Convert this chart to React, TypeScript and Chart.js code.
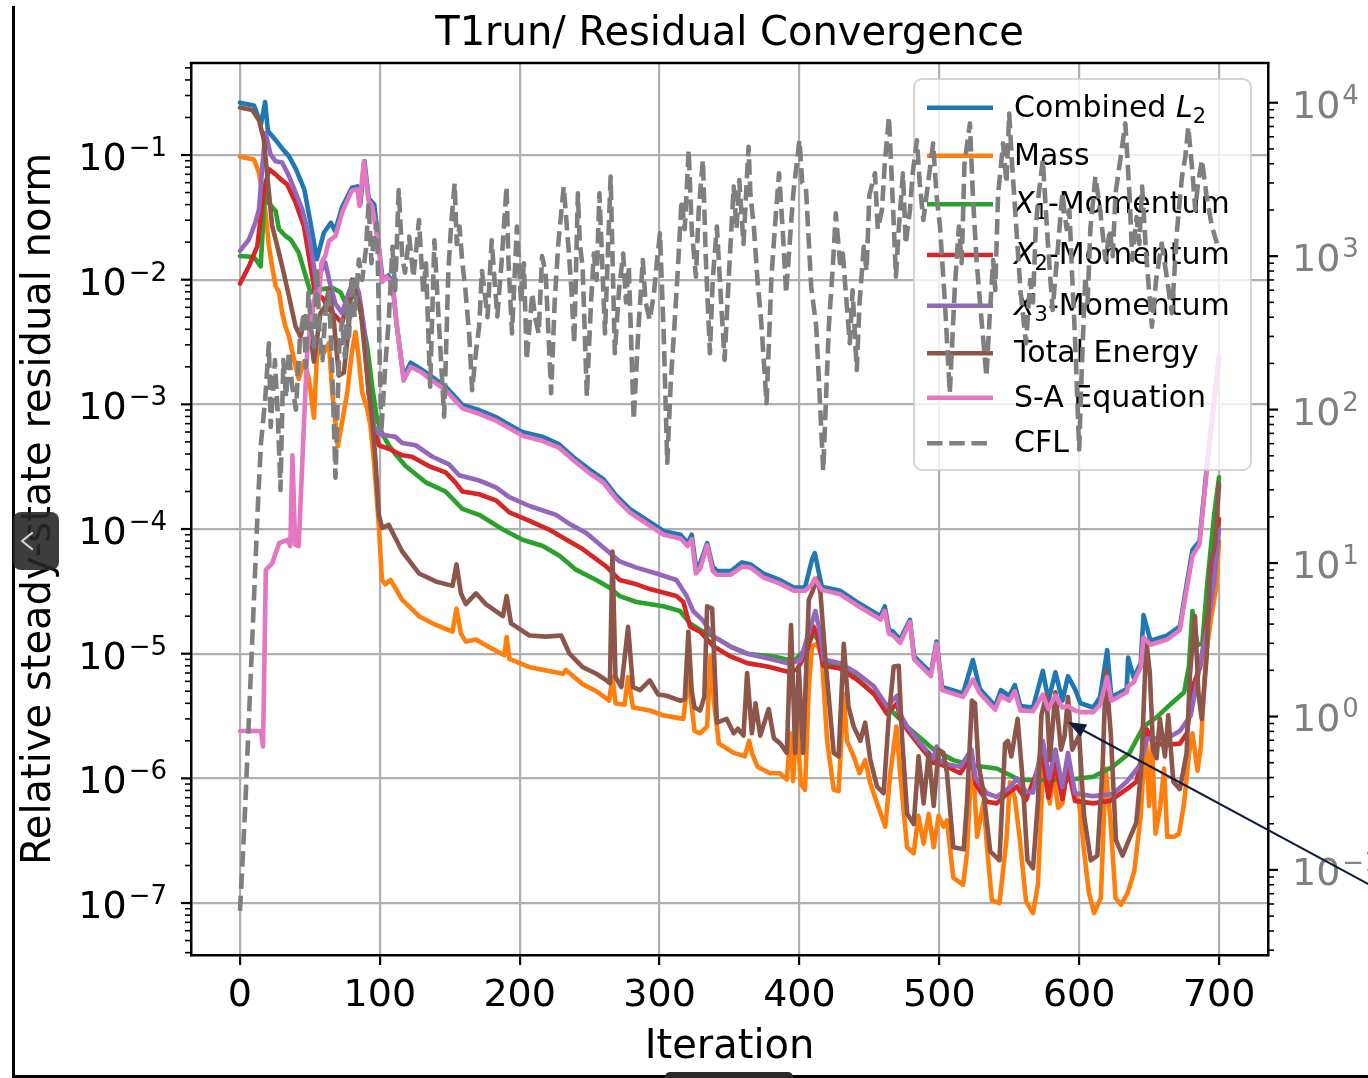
import React, { useEffect, useRef } from "react";
import { Chart, registerables } from "chart.js";

Chart.register(...registerables);

const FONT = '"DejaVu Sans", "Liberation Sans", Arial, sans-serif';

// ---------- axes ----------
const ITERATION_RANGE = [-35, 735];
const RESIDUAL_RANGE = [3.83e-8, 0.547];
const CFL_RANGE = [0.0279, 18150];
const ITERATION_TICKS = [0, 100, 200, 300, 400, 500, 600, 700];
const RESIDUAL_DECADES = [-7, -6, -5, -4, -3, -2, -1];
const CFL_DECADES = [-1, 0, 1, 2, 3, 4];

const TITLE = "T1run/ Residual Convergence";
const X_LABEL = "Iteration";
const Y_LABEL = "Relative steady-state residual norm";

const SERIES_NAMES = ["Combined L2", "Mass", "X1-Momentum", "X2-Momentum", "X3-Momentum", "Total Energy", "S-A Equation", "CFL"];

// ---------- data: [iteration, value] ----------
const combinedL2: [number, number][] = [
  [0, 0.263], [10, 0.25], [15, 0.176], [18, 0.266], [20, 0.156], [25, 0.134], [31, 0.11], [35, 0.098], [40, 0.077], [46, 0.053],
  [50, 0.0305], [55, 0.0146], [60, 0.0238], [65, 0.0286], [68, 0.0246], [73, 0.038], [80, 0.0547], [84, 0.056], [86, 0.04], [89, 0.0895],
  [92, 0.045], [96, 0.04], [99, 0.0195], [102, 0.01], [106, 0.0108], [109, 0.0096], [112, 0.0044], [117, 0.00165], [122, 0.00216], [130, 0.0019],
  [135, 0.00173], [147, 0.00139], [159, 0.00099], [171, 0.0009], [183, 0.00079], [193, 0.00068], [202, 0.0006], [216, 0.00055], [228, 0.00048], [238, 0.00038],
  [250, 0.0003], [260, 0.00025], [269, 0.000185], [279, 0.000144], [288, 0.000124], [303, 9.6e-5], [315, 9.0e-5], [320, 7.7e-5], [323, 9.0e-5], [326, 5.0e-5],
  [329, 5.3e-5], [334, 7.7e-5], [338, 5.0e-5], [341, 4.6e-5], [351, 4.6e-5], [359, 5.4e-5], [365, 5.2e-5], [374, 4.4e-5], [386, 3.9e-5], [396, 3.4e-5],
  [404, 3.4e-5], [409, 5.7e-5], [411, 6.4e-5], [416, 3.45e-5], [429, 3.2e-5], [441, 2.6e-5], [458, 2.0e-5], [461, 2.4e-5], [464, 1.55e-5], [467, 1.5e-5],
  [472, 1.3e-5], [479, 1.87e-5], [482, 9.5e-6], [494, 7.0e-6], [498, 1.25e-5], [502, 5.4e-6], [517, 4.8e-6], [524, 8.9e-6], [529, 5.2e-6], [540, 3.8e-6],
  [544, 5.1e-6], [550, 4.6e-6], [554, 5.6e-6], [558, 3.8e-6], [567, 3.7e-6], [574, 7.3e-6], [578, 4.2e-6], [583, 7.1e-6], [588, 4.2e-6], [592, 6.6e-6],
  [597, 5.2e-6], [601, 4.0e-6], [610, 3.7e-6], [615, 4.5e-6], [620, 1.07e-5], [623, 4.5e-6], [634, 5.2e-6], [635, 9.3e-6], [639, 6.4e-6], [644, 8.4e-6],
  [646, 2.04e-5], [651, 1.27e-5], [663, 1.4e-5], [672, 1.66e-5], [675, 2.7e-5], [681, 6.8e-5], [686, 8.0e-5], [691, 2.95e-4], [700, 2.4e-3],
];

const mass: [number, number][] = [
  [0, 0.097], [10, 0.092], [13.6, 0.072], [16, 0.05], [18.3, 0.0345], [20.7, 0.0186], [23, 0.0128], [25.5, 0.0089], [27.9, 0.0079], [30.2, 0.0054],
  [32.6, 0.0042], [35, 0.0035], [38.6, 0.0023], [42, 0.0016], [45.7, 0.0022], [49.3, 0.0016], [52.9, 7.8e-4], [55, 0.0024], [57.6, 0.0028], [60, 0.0026],
  [63.6, 0.0031], [66, 0.00124], [70, 4.6e-4], [76.7, 0.00124], [80, 0.0026], [82.6, 0.0038], [85, 0.0023], [87.4, 0.00124], [91, 9.2e-4], [93.3, 6.7e-4],
  [95.7, 3.6e-4], [99.3, 1.06e-4], [101.5, 3.9e-5], [104, 3.6e-5], [107.7, 3.9e-5], [116, 2.7e-5], [128, 2.0e-5], [140, 1.7e-5], [152, 1.5e-5], [154.8, 2.3e-5],
  [158, 1.45e-5], [161.5, 1.25e-5], [168.7, 1.3e-5], [178, 1.13e-5], [189, 9.7e-6], [190.7, 1.36e-5], [192.6, 9.1e-6], [207, 7.8e-6], [231, 6.9e-6], [233, 7.4e-6],
  [245, 5.7e-6], [254.8, 5.0e-6], [264, 4.2e-6], [266.3, 6.5e-6], [268.5, 4.0e-6], [275, 3.9e-6], [277.5, 6.5e-6], [281, 3.7e-6], [293, 3.5e-6], [302.6, 3.2e-6],
  [317, 3.0e-6], [320.6, 6.5e-6], [325, 2.4e-6], [329, 2.3e-6], [334, 2.6e-6], [336.4, 9.5e-6], [339, 4.0e-6], [342.4, 1.9e-6], [353, 1.6e-6], [361, 1.5e-6],
  [364, 2.0e-6], [366, 1.6e-6], [370, 1.24e-6], [379, 1.1e-6], [386, 1.1e-6], [391, 9.8e-7], [393.6, 2.3e-6], [395.5, 9.5e-7], [398, 3.1e-6], [401, 9.0e-7],
  [404, 8.1e-7], [406.7, 5.4e-6], [409, 1.14e-5], [412.6, 1.2e-5], [416, 9.5e-6], [419.8, 2.0e-6], [424.5, 8.1e-7], [428, 7.9e-7], [431.7, 4.8e-6], [434, 2.0e-6],
  [438.8, 1.5e-6], [443, 1.1e-6], [447, 1.4e-6], [450.7, 9.1e-7], [455.5, 6.3e-7], [461.4, 4.1e-7], [465, 1.1e-6], [469.3, 2.6e-6], [472, 1.1e-6], [477, 2.8e-7],
  [481.7, 2.5e-7], [485, 5.0e-7], [488.8, 3.0e-7], [492.4, 5.2e-7], [496, 2.8e-7], [499.5, 5.0e-7], [503, 4.1e-7], [505.5, 4.6e-7], [510, 1.6e-7], [517, 1.4e-7],
  [519.8, 2.5e-7], [522, 8.1e-7], [524.5, 1.1e-6], [527, 3.4e-7], [531.7, 6.5e-7], [534, 2.9e-7], [537.6, 1.05e-7], [543, 1.0e-7], [548, 3.2e-7], [550.5, 9.3e-7],
  [554, 7.0e-7], [557.6, 3.2e-7], [562, 1.03e-7], [567, 8.3e-8], [570.5, 1.4e-7], [573, 6.3e-7], [574.5, 1.3e-6], [576.6, 9.5e-7], [579, 6.3e-7], [581.5, 1.1e-6],
  [585, 5.8e-7], [588, 6.3e-7], [591, 1.2e-6], [595, 9.0e-7], [600, 6.3e-7], [603.5, 2.6e-7], [607, 1.2e-7], [610.7, 8.3e-8], [615.5, 1.1e-7], [619, 1.2e-6],
  [622.5, 4.4e-7], [626, 1.1e-7], [630, 9.7e-8], [634.6, 1.2e-7], [639.4, 1.8e-7], [644, 5.0e-7], [647.5, 2.5e-6], [650, 6.0e-7], [652, 2.0e-6], [654.6, 3.6e-7],
  [658, 6.0e-7], [660.7, 1.2e-6], [663, 3.4e-7], [667.8, 3.4e-7], [671.4, 3.6e-7], [675, 6.3e-7], [678.6, 1.6e-6], [681, 2.3e-6], [684.6, 1.15e-6], [687, 1.8e-6],
  [690.6, 9.7e-6], [694.2, 1.9e-5], [697.8, 3.3e-5], [700, 8.0e-5],
];

const x1Momentum: [number, number][] = [
  [0, 0.0155], [10, 0.0152], [14.8, 0.0128], [17, 0.035], [18.5, 0.062], [20.7, 0.041], [25.5, 0.0356], [27.9, 0.0254], [32.6, 0.0224], [36.2, 0.021],
  [42, 0.0165], [47, 0.0107], [50.5, 0.0079], [58.8, 0.0084], [66, 0.0086], [72, 0.0079], [75.5, 0.0065], [80, 0.0072], [83, 0.0085], [87.4, 0.0048],
  [91, 0.0029], [94.5, 0.0014], [98, 7.6e-4], [101.7, 5.8e-4], [106.5, 4.7e-4], [111, 4.0e-4], [118.4, 3.2e-4], [132.8, 2.37e-4], [147, 2.0e-4], [159, 1.45e-4],
  [171, 1.3e-4], [188, 9.9e-5], [202, 8.2e-5], [216.5, 7.3e-5], [228.5, 6.1e-5], [240.4, 4.7e-5], [254.8, 3.9e-5], [264, 3.4e-5], [271.5, 2.9e-5], [283.5, 2.6e-5],
  [302.6, 2.4e-5], [314.6, 2.2e-5], [321.8, 1.75e-5], [329, 1.55e-5], [338.8, 1.37e-5], [350.7, 1.14e-5], [362.6, 1.0e-5], [381.7, 9.5e-6], [396, 8.7e-6], [405, 1.1e-5],
  [410, 1.45e-5], [413, 1.3e-5], [417, 8.9e-6], [434, 7.4e-6], [448, 5.4e-6], [462.6, 3.8e-6], [477, 2.6e-6], [488.8, 2.0e-6], [496, 1.7e-6], [510, 1.4e-6],
  [524.5, 1.27e-6], [541, 1.2e-6], [557.6, 9.7e-7], [591, 9.7e-7], [610, 1.03e-6], [624, 1.24e-6], [636, 1.6e-6], [646, 2.6e-6], [655.5, 3.1e-6], [665, 3.9e-6],
  [675, 4.9e-6], [678.5, 8.0e-6], [681, 2.2e-5], [684.6, 1.18e-5], [688, 1.2e-5], [691.7, 3.8e-5], [696.5, 1.3e-4], [700, 2.6e-4],
];

const x2Momentum: [number, number][] = [
  [0, 0.0093], [6.4, 0.0128], [12.4, 0.0186], [17, 0.05], [20.7, 0.077], [25.5, 0.07], [29, 0.064], [33.8, 0.058], [39.8, 0.0415], [45.7, 0.027],
  [50.5, 0.0128], [54, 0.0074], [58.8, 0.0072], [63.6, 0.0058], [68.3, 0.0051], [73, 0.0045], [77.8, 0.007], [81.4, 0.0095], [85, 0.007], [88.6, 0.0038],
  [92, 0.00124], [95.7, 6.7e-4], [99.3, 4.7e-4], [106.4, 4.4e-4], [116, 3.9e-4], [123, 3.8e-4], [135, 3.2e-4], [147, 2.85e-4], [154, 2.37e-4], [159, 2.0e-4],
  [171, 1.9e-4], [183, 1.7e-4], [192.6, 1.36e-4], [207, 1.16e-4], [221, 9.9e-5], [231, 8.5e-5], [245, 6.9e-5], [262, 5.0e-5], [271.5, 3.9e-5], [283.5, 3.6e-5],
  [293, 3.3e-5], [312, 2.9e-5], [317, 2.6e-5], [321.8, 1.65e-5], [329, 1.5e-5], [338.8, 1.14e-5], [350.7, 9.5e-6], [362.6, 8.4e-6], [377, 7.9e-6], [391, 7.2e-6],
  [398, 7.4e-6], [405, 1.0e-5], [410, 1.65e-5], [413, 1.4e-5], [417, 8.0e-6], [429, 7.6e-6], [441, 6.2e-6], [453, 4.8e-6], [462.6, 3.3e-6], [469.8, 4.0e-6],
  [472, 3.0e-6], [477, 2.45e-6], [486.4, 1.8e-6], [496, 1.33e-6], [498, 1.6e-6], [500, 1.3e-6], [505.5, 1.24e-6], [515, 1.1e-6], [523, 1.5e-6], [526, 9.0e-7],
  [534, 6.5e-7], [541, 6.3e-7], [548.3, 7.5e-7], [555.5, 8.6e-7], [562, 6.7e-7], [574, 1.5e-6], [578, 7.0e-7], [583, 1.3e-6], [588, 6.8e-7], [592, 1.2e-6],
  [597, 6.6e-7], [610, 6.3e-7], [622, 6.6e-7], [634, 8.2e-7], [641, 9.4e-7], [648.5, 2.46e-6], [653, 1.9e-6], [663, 1.86e-6], [672, 1.9e-6], [677, 2.3e-6],
  [681.5, 5.6e-6], [686.5, 7.8e-6], [691.7, 1.9e-5], [696.5, 5.0e-5], [700, 1.2e-4],
];

const x3Momentum: [number, number][] = [
  [0, 0.017], [6.4, 0.021], [11, 0.0286], [13.6, 0.0366], [16.4, 0.092], [18.3, 0.15], [21.9, 0.101], [25.5, 0.089], [30.2, 0.087], [35, 0.068],
  [39.8, 0.05], [44.5, 0.0366], [49.3, 0.0224], [52.9, 0.0128], [55.2, 0.0079], [57.6, 0.0114], [61, 0.0137], [64.8, 0.0089], [68.3, 0.0064], [73, 0.0054],
  [77.8, 0.0079], [81.4, 0.01], [85, 0.0079], [88.6, 0.0042], [92, 0.00124], [95.7, 6.7e-4], [99.3, 5.8e-4], [106.4, 5.6e-4], [111, 5.5e-4], [116, 4.9e-4],
  [125.6, 4.7e-4], [137.6, 3.8e-4], [149.5, 3.3e-4], [156.7, 2.7e-4], [171, 2.45e-4], [183, 2.16e-4], [192.6, 1.8e-4], [207, 1.53e-4], [226, 1.3e-4], [235.6, 1.1e-4],
  [247.6, 9.3e-5], [262, 6.8e-5], [271.5, 5.5e-5], [283.5, 4.9e-5], [297.8, 4.4e-5], [312, 3.9e-5], [319.4, 2.9e-5], [324, 2.2e-5], [331, 1.85e-5], [338.8, 1.37e-5],
  [350.7, 1.14e-5], [362.6, 1.0e-5], [377, 9.2e-6], [391, 8.4e-6], [400.7, 8.8e-6], [406, 1.4e-5], [411.4, 2.2e-5], [414, 1.6e-5], [417.4, 9.0e-6], [429, 8.4e-6],
  [441, 7.0e-6], [453, 5.5e-6], [462.6, 3.8e-6], [469.8, 4.6e-6], [472, 3.3e-6], [477, 2.6e-6], [486.4, 1.9e-6], [496, 1.45e-6], [498, 1.8e-6], [500, 1.4e-6],
  [505.5, 1.3e-6], [515, 1.24e-6], [523, 1.7e-6], [526, 1.0e-6], [534, 7.6e-7], [541, 7.1e-7], [550.7, 8.5e-7], [555.5, 1.0e-6], [562, 7.8e-7], [567, 7.7e-7],
  [574, 2.0e-6], [578.6, 1.0e-6], [583, 1.7e-6], [588, 8.5e-7], [592, 1.6e-6], [597, 7.6e-7], [610, 7.2e-7], [624, 7.5e-7], [634, 9.4e-7], [644, 1.3e-6],
  [648.5, 2.1e-6], [663, 2.1e-6], [672, 2.4e-6], [679.8, 3.2e-6], [684.6, 6.4e-6], [691.7, 1.66e-5], [696.5, 3.8e-5], [700, 9.9e-5],
];

const totalEnergy: [number, number][] = [
  [0, 0.24], [8.8, 0.23], [13.6, 0.19], [17, 0.134], [20.7, 0.05], [23, 0.027], [26.7, 0.0186], [30.2, 0.0128], [35, 0.0074], [39.8, 0.0042],
  [43.3, 0.0035], [47, 0.0051], [49.3, 0.0043], [52.9, 0.0022], [57.6, 0.0054], [61, 0.0061], [63.6, 0.0084], [67, 0.0048], [70.7, 0.0017], [74.3, 0.0018],
  [77.8, 0.0042], [80, 0.01], [82.6, 0.0079], [86, 0.0062], [89.8, 0.0023], [94.5, 7.6e-4], [96.9, 3.6e-4], [99.3, 1.3e-4], [101.7, 1.02e-4], [106.4, 1.08e-4],
  [111, 8.5e-5], [116, 6.6e-5], [128, 4.4e-5], [140, 3.8e-5], [152, 3.5e-5], [154.8, 5.2e-5], [158, 3.05e-5], [161.5, 2.5e-5], [168.7, 3.05e-5], [175.8, 2.5e-5],
  [188, 2.0e-5], [190.7, 2.9e-5], [193.8, 1.75e-5], [207, 1.4e-5], [219, 1.37e-5], [229.7, 1.4e-5], [235.6, 1.0e-5], [245, 7.8e-6], [254.8, 6.9e-6], [262, 6.1e-6],
  [264.5, 5.8e-6], [266.3, 6.6e-5], [268.5, 6.5e-6], [272.7, 5.4e-6], [277.5, 1.64e-5], [281, 5.4e-6], [286, 5.1e-6], [293, 6.1e-6], [299, 4.7e-6], [305, 4.6e-6],
  [314.6, 4.2e-6], [318, 4.3e-6], [320.6, 1.5e-5], [323, 5.0e-6], [325, 3.7e-6], [329, 3.5e-6], [332, 4.5e-6], [334, 2.4e-5], [337.6, 2.3e-5], [341, 2.8e-6],
  [348, 3.0e-6], [353, 2.3e-6], [356, 2.5e-6], [360, 2.2e-6], [362.6, 7.0e-6], [366, 2.3e-6], [368.6, 4.0e-6], [372, 2.2e-6], [378, 3.6e-6], [381.7, 2.1e-6],
  [386.4, 1.9e-6], [391, 1.6e-6], [394, 1.7e-5], [397, 1.6e-6], [399.5, 7.9e-6], [402.6, 1.6e-6], [406.7, 2.7e-5], [409, 3.1e-5], [412.6, 4.0e-5], [415, 3.1e-5],
  [418.6, 8.9e-6], [424.5, 1.6e-6], [428, 1.5e-6], [431.7, 1.2e-5], [435, 3.8e-6], [438.8, 2.6e-6], [443.6, 2.0e-6], [447, 2.8e-6], [450.7, 1.4e-6], [455.5, 8.6e-7],
  [460.2, 7.6e-7], [463.8, 3.0e-6], [467.4, 7.9e-6], [471, 8.0e-6], [473.3, 2.2e-6], [477, 5.2e-7], [481.7, 4.3e-7], [485.2, 1.5e-6], [488.8, 6.3e-7], [492.4, 1.6e-6],
  [496, 6.0e-7], [499.5, 1.7e-6], [503, 1.6e-6], [505.5, 1.1e-6], [510, 2.8e-7], [517.4, 2.7e-7], [519.8, 6.3e-7], [523.3, 4.2e-6], [525.5, 4.0e-6], [528, 1.3e-6],
  [531.7, 7.6e-7], [536.4, 2.6e-7], [543, 2.2e-7], [547, 1.9e-6], [549, 2.0e-6], [551.5, 1.5e-6], [556, 3.0e-6], [559.5, 1.0e-6], [563, 2.2e-7], [567, 1.9e-7],
  [570.5, 6.5e-7], [573, 3.2e-6], [576.6, 4.7e-6], [579, 1.4e-6], [583, 4.9e-6], [587, 1.7e-6], [589.6, 2.2e-6], [592, 4.5e-6], [595, 1.7e-6], [600, 2.2e-6],
  [603.5, 5.0e-7], [608.3, 2.2e-7], [613, 2.4e-7], [616.7, 1.2e-6], [619.1, 7.3e-6], [622.7, 2.2e-6], [626.3, 3.2e-7], [631, 2.4e-7], [636, 3.3e-7], [640.8, 4.4e-7],
  [644.4, 1.2e-6], [648, 1.27e-5], [650.5, 7.0e-6], [652.9, 1.7e-6], [655.3, 1.45e-6], [657.7, 3.0e-6], [661.3, 1.5e-6], [663.7, 3.2e-6], [667.3, 9.4e-7], [672, 8.2e-7],
  [676.8, 1.6e-6], [679.2, 6.8e-6], [682.8, 2.0e-5], [685.2, 4.9e-6], [687.6, 3.0e-6], [691.2, 9.6e-6], [693.6, 5.0e-5], [697.2, 7.5e-5], [700, 2.3e-4],
];

const saEquation: [number, number][] = [
  [0, 2.4e-6], [15, 2.4e-6], [16.5, 1.8e-6], [18.5, 4.7e-5], [23, 5.3e-5], [28, 7.7e-5], [34, 8.2e-5], [36, 7.3e-5], [37.5, 3.9e-4], [39.5, 7.5e-5],
  [42, 7.3e-5], [45.7, 6.7e-4], [48, 2.6e-3], [51.7, 5.4e-3], [54, 7.9e-3], [56.4, 7.0e-3], [58.3, 1.37e-2], [61, 1.55e-2], [63.6, 2.04e-2], [68.3, 2.24e-2],
  [73, 3.45e-2], [80, 5.2e-2], [84, 5.3e-2], [85.5, 3.9e-2], [88.6, 8.9e-2], [92, 4.3e-2], [94.5, 3.9e-2], [99.3, 1.8e-2], [101.7, 9.6e-3], [105, 1.05e-2],
  [109, 9.4e-3], [112.4, 4.1e-3], [117, 1.55e-3], [122, 2.0e-3], [130, 1.8e-3], [135, 1.62e-3], [147, 1.3e-3], [159, 9.3e-4], [171, 8.4e-4], [183, 7.4e-4],
  [193, 6.4e-4], [202, 5.6e-4], [216, 5.1e-4], [228, 4.5e-4], [238, 3.6e-4], [250, 2.8e-4], [260, 2.35e-4], [269, 1.74e-4], [279, 1.35e-4], [288, 1.16e-4],
  [303, 9.0e-5], [315, 8.4e-5], [320, 7.3e-5], [323, 8.3e-5], [326, 4.4e-5], [329, 4.8e-5], [334, 7.4e-5], [338, 4.6e-5], [341, 4.3e-5], [351, 4.3e-5],
  [359, 5.0e-5], [365, 4.9e-5], [374, 4.1e-5], [386, 3.65e-5], [396, 3.2e-5], [404, 3.2e-5], [409, 3.6e-5], [411, 4.0e-5], [416, 3.25e-5], [429, 3.0e-5],
  [441, 2.45e-5], [458, 1.88e-5], [461, 2.2e-5], [464, 1.45e-5], [467, 1.4e-5], [472, 1.22e-5], [479, 1.8e-5], [482, 9.0e-6], [494, 6.6e-6], [498, 1.2e-5],
  [502, 5.1e-6], [517, 4.5e-6], [524, 6.2e-6], [529, 4.8e-6], [540, 3.55e-6], [544, 4.6e-6], [550, 4.2e-6], [554, 5.0e-6], [558, 3.5e-6], [567, 3.45e-6],
  [574, 4.7e-6], [578, 3.6e-6], [583, 4.6e-6], [588, 3.7e-6], [592, 3.8e-6], [597, 3.5e-6], [601, 3.4e-6], [610, 3.4e-6], [615, 3.9e-6], [620, 6.5e-6],
  [623, 4.2e-6], [634, 4.9e-6], [635, 5.5e-6], [639, 5.9e-6], [644, 7.8e-6], [646, 1.35e-5], [651, 1.18e-5], [663, 1.3e-5], [672, 1.55e-5], [675, 2.5e-5],
  [681, 6.1e-5], [686, 7.5e-5], [691, 2.8e-4], [700, 2.4e-3],
];

const cfl: [number, number][] = [
  [0, 0.054], [2, 0.12], [4, 0.29], [7, 1.3], [10, 5.8], [13, 26], [15, 60], [18, 116], [20.7, 270], [22, 77],
  [25, 210], [27, 95], [29, 30], [31, 210], [33, 120], [35, 240], [37, 150], [40, 100], [43, 300], [45.7, 430],
  [47, 190], [49, 580], [51, 330], [53, 255], [55, 850], [57, 300], [59, 210], [61, 420], [63.6, 580], [66, 180],
  [68.3, 36], [71, 250], [73, 385], [75, 220], [76.7, 500], [78, 300], [80, 730], [82, 400], [85, 950], [87.4, 700],
  [90, 1100], [92, 2230], [94, 900], [95.7, 1300], [98, 1650], [101, 70], [104, 200], [106.4, 385], [109, 1150], [111, 600],
  [113.5, 2700], [116, 1000], [118, 780], [121, 1340], [124, 730], [126, 1100], [128, 1720], [131, 580], [133, 900], [136, 141],
  [139, 1270], [142, 400], [146, 90], [149, 800], [151, 1600], [153.5, 2980], [155, 1200], [157, 1560], [159, 900], [161, 632], [164, 300],
  [166, 134], [169, 250], [171, 347], [173, 800], [175, 573], [177, 400], [180, 1270], [182, 700], [184, 404], [187, 900], [190.6, 2840], [192, 900], [194.5, 314],
  [198, 1560], [201, 500], [203, 900], [205, 211], [209, 573], [211, 400], [213.6, 314], [216, 1000], [218.6, 773], [222.5, 128], [225, 500], [227.6, 1210],
  [231.5, 2840], [235, 1100], [237, 600], [239, 270], [241.6, 2570], [243, 1200], [245, 855], [248, 122], [251, 500], [253, 1040], [255, 700], [257, 2570], [261, 314],
  [265, 3300], [268, 233], [271, 600], [274, 1040], [276, 500], [278, 855], [281.5, 86], [285, 347], [288, 944], [290, 500], [293, 384],
  [296, 573], [298, 900], [300.3, 1410], [303, 300], [305.5, 45], [308, 150], [310.6, 347], [313, 800], [315.7, 2320], [318, 1500], [320.8, 4920], [323, 1500],
  [326, 735], [328, 2000], [331, 4240], [333, 1000], [336, 233], [338, 700], [341, 1560], [344, 500], [346.5, 211], [350, 900],
  [353, 2840], [355, 1500], [357, 3130], [360, 1200], [363.6, 5170], [365, 2500], [367.4, 1560], [370, 700], [372.6, 384], [376.5, 110], [380, 735], [383, 1800],
  [385.4, 3470], [388, 1500], [390.5, 573], [393, 1200], [395.6, 2570], [400, 5700], [402, 3000], [404.6, 2840], [408.4, 632], [412, 347],
  [414, 150], [417, 40], [421, 347], [424, 900], [426, 1900], [429, 900], [431, 1040], [433, 600], [436, 270], [438, 600], [441, 181], [443, 500],
  [446, 1150], [448, 800], [450, 2500], [454, 3470], [456, 1500], [459, 2000], [461, 4000], [464, 8100], [467, 2000], [469, 735], [471, 1500], [474, 3470],
  [476, 1200], [479, 2000], [481, 3500], [484, 5700], [486, 3000], [488.6, 1720], [492, 3000], [495.6, 5430], [498, 2500], [500.5, 1560],
  [504, 500], [507.5, 128], [511, 600], [514, 1560], [516, 900], [518, 4000], [521.9, 7330], [524, 2500], [526.6, 944], [530, 400], [533.7, 164],
  [536, 400], [538.5, 944], [540, 600], [542, 2500], [545.6, 5430], [548, 3000], [550, 8500], [552, 4000], [555, 1560], [558, 600], [562, 270], [565, 700],
  [567, 500], [569, 1560], [571, 2500], [574, 4240], [577, 1500], [579, 800], [581, 446], [585, 1200], [588, 2570], [591, 1500], [593, 2000], [595, 735], [597, 300],
  [600, 55], [602, 200], [604.4, 735], [606, 500], [608, 1500], [611.6, 3300], [615, 2000], [618.8, 944], [622, 1500], [624, 1000], [626, 2570], [629, 4000],
  [633, 7330], [636, 2500], [638, 944], [641, 1800], [643, 1200], [645, 2840], [648, 1000], [652, 347], [655, 700], [659, 1210], [662, 800],
  [666.3, 425], [670, 1500], [673.5, 3300], [676, 4500], [678, 6980], [681, 3500], [683, 2000], [685, 3000], [687.8, 4240], [691, 2500],
  [694.9, 1560], [698.5, 1210],
];

// ---------- styling ----------
const COLORS = ["#1f77b4", "#ff7f0e", "#2ca02c", "#d62728", "#9467bd", "#8c564b", "#e377c2", "#7f7f7f"];
const SERIES_DATA = [combinedL2, mass, x1Momentum, x2Momentum, x3Momentum, totalEnergy, saEquation, cfl];
const DRAW_ORDER = [7, 6, 5, 4, 3, 2, 1, 0]; // lower = drawn later (on top)
const CFL_INDEX = 7;
const LINE_W = 4.6;
const DASH = [15.5, 6.7];

const LEGEND_LABELS: [string, string][][] = [
  [["Combined ", "n"], ["L", "i"], ["2", "sub"]],
  [["Mass", "n"]],
  [["X", "i"], ["1", "sub"], ["-Momentum", "n"]],
  [["X", "i"], ["2", "sub"], ["-Momentum", "n"]],
  [["X", "i"], ["3", "sub"], ["-Momentum", "n"]],
  [["Total Energy", "n"]],
  [["S-A Equation", "n"]],
  [["CFL", "n"]],
];

function logTicks(min: number, max: number) {
  const out: any[] = [];
  for (let e = Math.floor(Math.log10(min)); e <= Math.ceil(Math.log10(max)); e++) {
    for (let m = 1; m <= 9; m++) {
      const v = m * Math.pow(10, e);
      if (v >= min && v <= max) out.push({ value: v, major: m === 1 });
    }
  }
  return out;
}

function roundRectPath(ctx: CanvasRenderingContext2D, x: number, y: number, w: number, h: number, r: number) {
  ctx.beginPath();
  ctx.moveTo(x + r, y);
  ctx.lineTo(x + w - r, y);
  ctx.arcTo(x + w, y, x + w, y + r, r);
  ctx.lineTo(x + w, y + h - r);
  ctx.arcTo(x + w, y + h, x + w - r, y + h, r);
  ctx.lineTo(x + r, y + h);
  ctx.arcTo(x, y + h, x, y + h - r, r);
  ctx.lineTo(x, y + r);
  ctx.arcTo(x, y, x + r, y, r);
  ctx.closePath();
}

function drawLegend(ctx: CanvasRenderingContext2D, area: any) {
  const left = area.right - 354;
  const top = area.top + 16;
  const w = 337;
  const h = 391;
  ctx.save();
  roundRectPath(ctx, left, top, w, h, 8);
  ctx.fillStyle = "rgba(255,255,255,0.8)";
  ctx.fill();
  ctx.strokeStyle = "rgba(204,204,204,0.8)";
  ctx.lineWidth = 2;
  ctx.stroke();
  const rows = [28.7, 76.7, 125.3, 176, 226.7, 274.3, 318.7, 364.3];
  rows.forEach((off, i) => {
    const y = top + off;
    ctx.beginPath();
    ctx.strokeStyle = COLORS[i];
    ctx.lineWidth = LINE_W;
    ctx.lineCap = "butt";
    ctx.setLineDash(i === CFL_INDEX ? DASH : []);
    ctx.moveTo(left + 13, y);
    ctx.lineTo(left + 79, y);
    ctx.stroke();
    ctx.setLineDash([]);
    let x = left + 100;
    const base = y + 9;
    ctx.fillStyle = "#000";
    ctx.textAlign = "left";
    ctx.textBaseline = "alphabetic";
    for (const [txt, style] of LEGEND_LABELS[i]) {
      if (style === "sub") {
        ctx.font = `21px ${FONT}`;
        ctx.fillText(txt, x, base + 6);
      } else if (style === "i") {
        ctx.font = `italic 30px ${FONT}`;
        ctx.fillText(txt, x, base);
      } else {
        ctx.font = `30px ${FONT}`;
        ctx.fillText(txt, x, base);
      }
      x += ctx.measureText(txt).width;
    }
  });
  ctx.restore();
}

function drawPower(ctx: CanvasRenderingContext2D, x: number, y: number, exp: number, align: string, color: string) {
  const base = "10";
  const sup = exp < 0 ? "\u2212" + Math.abs(exp) : String(exp);
  ctx.font = `38px ${FONT}`;
  const wb = ctx.measureText(base).width;
  ctx.font = `26px ${FONT}`;
  const ws = ctx.measureText(sup).width;
  const total = wb + 2 + ws;
  const x0 = align === "right" ? x - total : x;
  ctx.fillStyle = color;
  ctx.textAlign = "left";
  ctx.textBaseline = "alphabetic";
  ctx.font = `38px ${FONT}`;
  ctx.fillText(base, x0, y + 15);
  ctx.font = `26px ${FONT}`;
  ctx.fillText(sup, x0 + wb + 2, y + 1);
}

const legendPlugin = {
  id: "mplLegend",
  beforeDatasetDraw(chart: any, args: any) {
    if (args.index !== CFL_INDEX) return;
    drawLegend(chart.ctx, chart.chartArea);
  },
};

const overlayPlugin = {
  id: "mplOverlay",
  afterDraw(chart: any) {
    const ctx: CanvasRenderingContext2D = chart.ctx;
    const a = chart.chartArea;
    const yL = chart.scales.y;
    const yR = chart.scales.y1;
    ctx.save();
    ctx.setTransform(1, 0, 0, 1, 0, 0);
    // top spine
    ctx.strokeStyle = "#000";
    ctx.lineWidth = 2.5;
    ctx.beginPath();
    ctx.moveTo(a.left - 1.25, a.top);
    ctx.lineTo(a.right + 1.25, a.top);
    ctx.stroke();
    // title
    ctx.fillStyle = "#000";
    ctx.font = `40px ${FONT}`;
    ctx.textAlign = "center";
    ctx.textBaseline = "alphabetic";
    ctx.fillText(TITLE, (a.left + a.right) / 2, a.top - 18);
    // left ticks
    yL.ticks.forEach((t: any) => {
      const y = yL.getPixelForValue(t.value);
      ctx.beginPath();
      ctx.lineWidth = t.major ? 2.2 : 1.6;
      ctx.moveTo(a.left, y);
      ctx.lineTo(a.left - (t.major ? 10 : 6), y);
      ctx.stroke();
    });
    RESIDUAL_DECADES.forEach((e) => drawPower(ctx, a.left - 24, yL.getPixelForValue(Math.pow(10, e)), e, "right", "#000"));
    // right ticks
    ctx.strokeStyle = "#000";
    yR.ticks.forEach((t: any) => {
      const y = yR.getPixelForValue(t.value);
      ctx.beginPath();
      ctx.lineWidth = t.major ? 2.2 : 1.6;
      ctx.moveTo(a.right, y);
      ctx.lineTo(a.right + (t.major ? 10 : 6), y);
      ctx.stroke();
    });
    CFL_DECADES.forEach((e) => drawPower(ctx, a.right + 24, yR.getPixelForValue(Math.pow(10, e)), e, "left", "#808080"));

    // screenshot frame artefacts
    ctx.fillStyle = "#000";
    ctx.fillRect(12, 6, 3, 1072);
    ctx.fillRect(12, 1075, 1356, 3);
    ctx.fillStyle = "#2b2b2b";
    roundRectPath(ctx, 665, 1072, 128, 12, 5);
    ctx.fill();
    ctx.fillStyle = "rgba(40,40,40,0.9)";
    roundRectPath(ctx, 13, 512, 46, 58, 8);
    ctx.fill();
    // chevron "<"
    ctx.strokeStyle = "#d8d8d8";
    ctx.lineWidth = 2.2;
    ctx.lineCap = "round";
    ctx.lineJoin = "round";
    ctx.beginPath();
    ctx.moveTo(32, 533);
    ctx.lineTo(22, 541);
    ctx.lineTo(32, 549);
    ctx.stroke();
    // annotation arrow
    const tipX = 1068, tipY = 722, endX = 1372, endY = 886;
    ctx.strokeStyle = "#0e1d3a";
    ctx.fillStyle = "#0e1d3a";
    ctx.lineWidth = 2;
    ctx.lineCap = "butt";
    ctx.beginPath();
    ctx.moveTo(endX, endY);
    ctx.lineTo(tipX + 10, tipY + 5.5);
    ctx.stroke();
    const ang = Math.atan2(endY - tipY, endX - tipX);
    const L = 18, W = 7;
    ctx.beginPath();
    ctx.moveTo(tipX, tipY);
    ctx.lineTo(tipX + L * Math.cos(ang) - W * Math.sin(ang), tipY + L * Math.sin(ang) + W * Math.cos(ang));
    ctx.lineTo(tipX + L * Math.cos(ang) + W * Math.sin(ang), tipY + L * Math.sin(ang) - W * Math.cos(ang));
    ctx.closePath();
    ctx.fill();
    ctx.restore();
  },
};

export default function App() {
  const canvasRef = useRef<HTMLCanvasElement | null>(null);

  useEffect(() => {
    const canvas = canvasRef.current;
    if (!canvas) return;
    Chart.defaults.font.family = FONT;

    const datasets = SERIES_DATA.map((pts, i) => ({
      label: SERIES_NAMES[i],
      data: pts.map(([x, y]) => ({ x, y })),
      borderColor: COLORS[i],
      backgroundColor: COLORS[i],
      borderWidth: LINE_W,
      borderDash: i === CFL_INDEX ? DASH : [],
      borderCapStyle: i === CFL_INDEX ? "butt" : "round",
      borderJoinStyle: "round",
      pointRadius: 0,
      tension: 0,
      fill: false,
      order: DRAW_ORDER[i],
      yAxisID: i === CFL_INDEX ? "y1" : "y",
    }));

    const chart = new Chart(canvas, {
      type: "line",
      data: { datasets } as any,
      options: {
        responsive: false,
        devicePixelRatio: 1,
        animation: false,
        events: [],
        layout: { padding: { top: 63, left: 0, right: 0, bottom: 0 } },
        plugins: { legend: { display: false }, title: { display: false }, tooltip: { enabled: false } },
        scales: {
          x: {
            type: "linear",
            min: ITERATION_RANGE[0],
            max: ITERATION_RANGE[1],
            bounds: "data",
            afterBuildTicks: (s: any) => { s.ticks = ITERATION_TICKS.map((v) => ({ value: v })); },
            afterFit: (s: any) => { s.height = 123; },
            ticks: { autoSkip: false, maxRotation: 0, padding: 8, color: "#000", font: { size: 38, family: FONT } },
            grid: { color: "#b0b0b0", lineWidth: 2.2, drawTicks: true, tickLength: 10, tickColor: "#000", tickWidth: 2.2 },
            border: { display: true, color: "#000", width: 2.5 },
            title: { display: true, text: X_LABEL, color: "#000", font: { size: 40, family: FONT }, padding: { top: 0, bottom: 6 } },
          },
          y: {
            type: "logarithmic",
            position: "left",
            min: RESIDUAL_RANGE[0],
            max: RESIDUAL_RANGE[1],
            bounds: "data",
            afterBuildTicks: (s: any) => { s.ticks = logTicks(RESIDUAL_RANGE[0], RESIDUAL_RANGE[1]); },
            afterFit: (s: any) => { s.width = 191; },
            ticks: { display: false, autoSkip: false },
            grid: {
              drawTicks: false,
              lineWidth: 2.2,
              color: (c: any) => (c.tick && c.tick.major ? "#b0b0b0" : "rgba(0,0,0,0)"),
            },
            border: { display: true, color: "#000", width: 2.5 },
            title: { display: true, text: Y_LABEL, color: "#000", font: { size: 40, family: FONT }, padding: { top: 16, bottom: 0 } },
          },
          y1: {
            type: "logarithmic",
            position: "right",
            min: CFL_RANGE[0],
            max: CFL_RANGE[1],
            bounds: "data",
            afterBuildTicks: (s: any) => { s.ticks = logTicks(CFL_RANGE[0], CFL_RANGE[1]); },
            afterFit: (s: any) => { s.width = 100; },
            ticks: { display: false, autoSkip: false },
            grid: { display: false, drawOnChartArea: false, drawTicks: false },
            border: { display: true, color: "#000", width: 2.5 },
          },
        },
      } as any,
      plugins: [legendPlugin, overlayPlugin],
    });

    return () => chart.destroy();
  }, []);

  return (
    <div style={{ position: "fixed", left: 0, top: 0, width: 1368, height: 1078, background: "#fff", overflow: "hidden" }}>
      <canvas ref={canvasRef} width={1368} height={1078} style={{ width: 1368, height: 1078, display: "block" }} />
    </div>
  );
}
